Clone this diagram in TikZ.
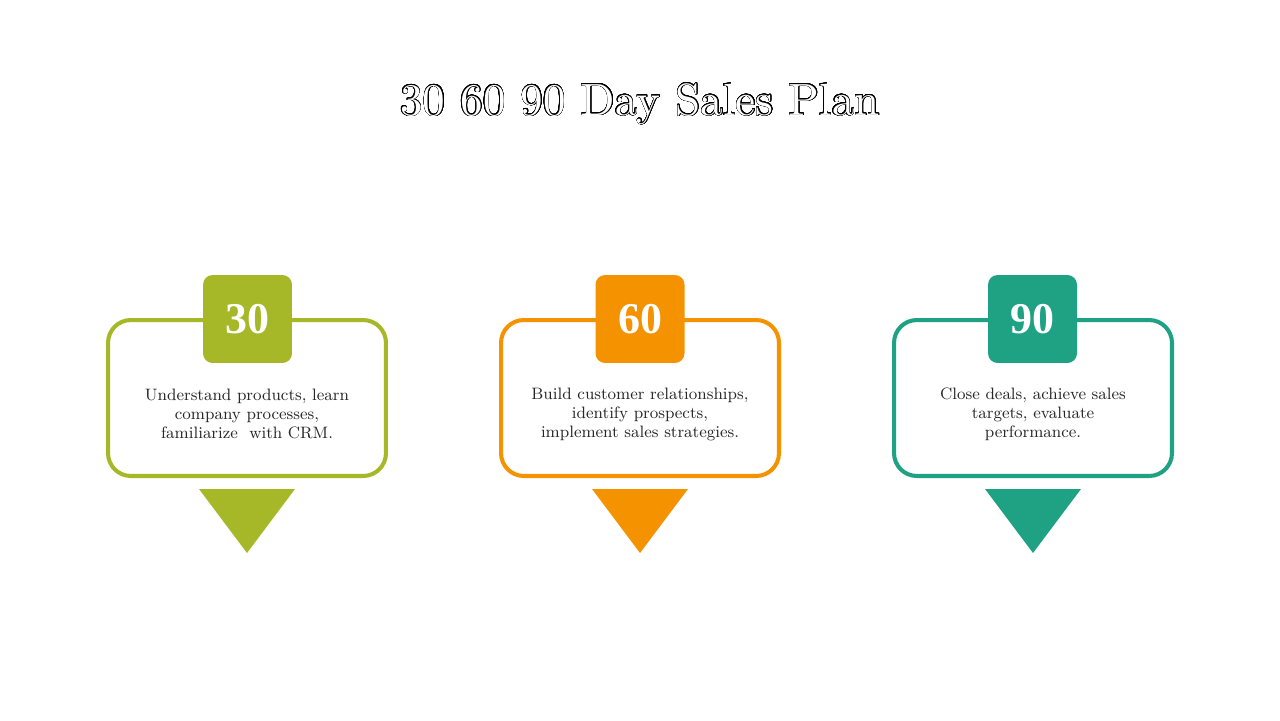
\documentclass[tikz,border=0pt]{standalone}
\usepackage{fontspec}
\usepackage{tikz}
\usepackage{xcolor}
\usepackage{contour}
\contourlength{0.3pt}
\contournumber{32}
\newfontfamily\numfont{Liberation Serif}
\newfontfamily\titlefont{lmroman10-regular}[Extension=.otf]
\definecolor{planGreen}{RGB}{166,184,40}
\definecolor{planOrange}{RGB}{245,146,0}
\definecolor{planTeal}{RGB}{31,161,132}

\begin{document}
\begin{tikzpicture}[x=0.02cm,y=-0.02cm,
  card/.style={draw,line width=2.3pt,rounded corners=13pt,fill=white,
    minimum width=5.56cm,minimum height=3.12cm,inner sep=0pt},
  daybox/.style={rounded corners=5.5pt,minimum width=1.78cm,minimum height=1.76cm,
    inner sep=0pt,text=white,font=\numfont\bfseries\fontsize{25}{28}\selectfont},
  cardtext/.style={align=center,text=black!85,font=\fontsize{9.4}{10.8}\selectfont}]
\useasboundingbox (0,0) rectangle (1280,720);

% title
\node (title) at (640,104) {\titlefont\fontsize{25.7}{30}\selectfont\contour{black}{\textcolor{white}{30 60 90 Day Sales Plan}}};

% first 30 days
\node[card,draw=planGreen] (card30) at (247,398) {};
\node[daybox,fill=planGreen] (day30) at (247.5,319) {30};
\node[cardtext] (text30) at (247,414) {Understand products, learn\\company processes,\\familiarize\ \ with CRM.};
\fill[planGreen] (199,489)--(295,489)--(247,553)--cycle;

% days 31 to 60
\node[card,draw=planOrange] (card60) at (640,398) {};
\node[daybox,fill=planOrange] (day60) at (640,319) {60};
\node[cardtext] (text60) at (640,414) {Build customer relationships,\\identify prospects,\\implement sales strategies.};
\fill[planOrange] (592,489)--(688,489)--(640,553)--cycle;

% days 61 to 90
\node[card,draw=planTeal] (card90) at (1033,398) {};
\node[daybox,fill=planTeal] (day90) at (1032.5,319) {90};
\node[cardtext] (text90) at (1033,414) {Close deals, achieve sales\\targets, evaluate\\performance.};
\fill[planTeal] (985,489)--(1081,489)--(1033,553)--cycle;
\end{tikzpicture}
\end{document}
